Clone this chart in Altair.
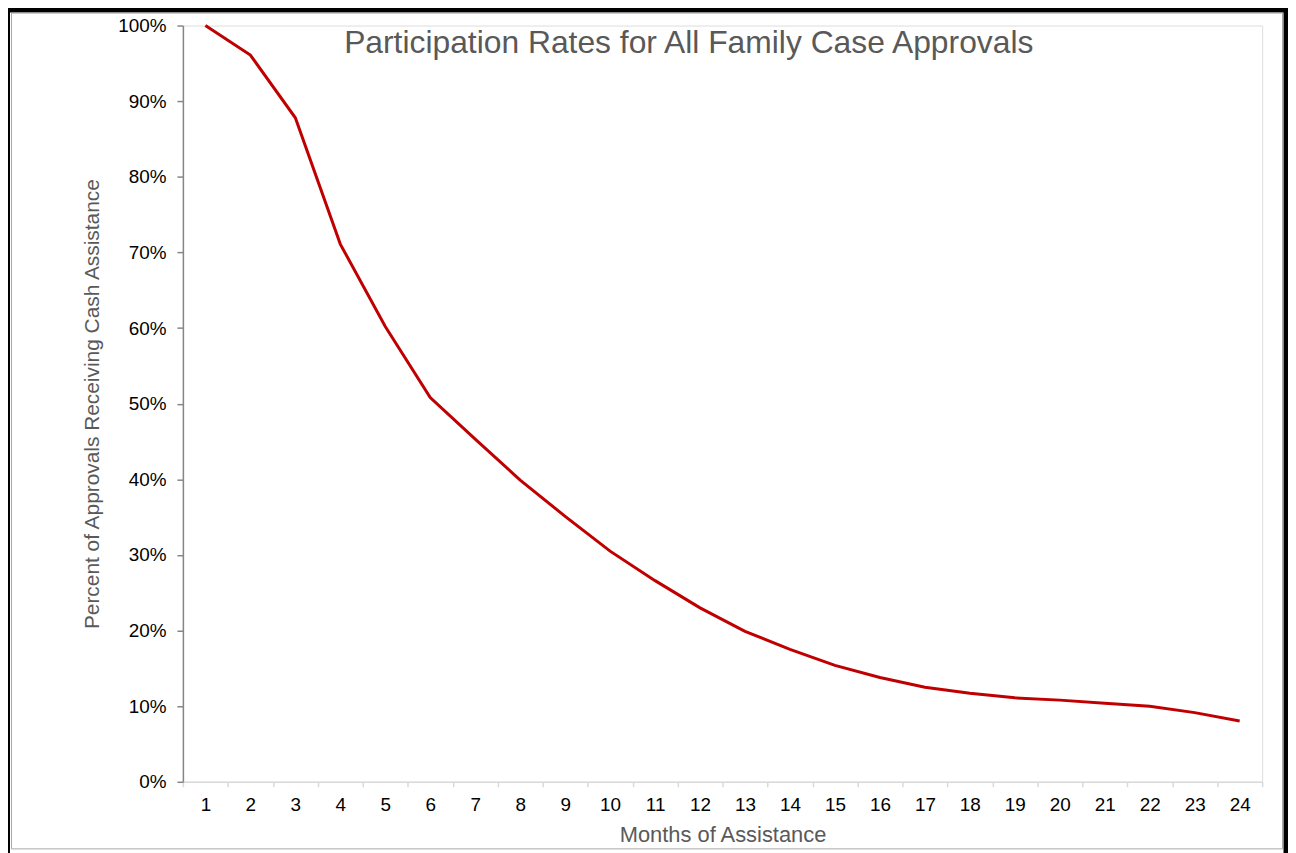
import altair as alt
import pandas as pd

# ---- data ----
months = list(range(1, 25))
rates = [1.000, 0.961, 0.878, 0.711, 0.602, 0.508, 0.453, 0.399, 0.351, 0.305,
         0.266, 0.230, 0.199, 0.175, 0.154, 0.138, 0.125, 0.117, 0.111, 0.108,
         0.104, 0.100, 0.0915, 0.0805]

title_text = "Participation Rates for All Family Case Approvals"
x_title = "Months of Assistance"
y_title = "Percent of Approvals Receiving Cash Assistance"

df = pd.DataFrame({"month": months, "rate": rates})

FONT = "Liberation Sans"
W, H = 1086, 761

line = alt.Chart(df).mark_line(color="#c00000", strokeWidth=3).encode(
    x=alt.X(
        "month:O",
        scale=alt.Scale(type="band", paddingInner=0, paddingOuter=0),
        axis=alt.Axis(
            title=x_title,
            labelAngle=0,
            tickBand="extent",
            tickSize=5,
            tickColor="#d9d9d9",
            tickWidth=1.5,
            domainColor="#d9d9d9",
            domainWidth=1.5,
            labelFont=FONT,
            labelFontSize=19,
            labelColor="#000000",
            labelBaseline="alphabetic",
            labelPadding=24,
            titleFont=FONT,
            titleFontSize=22,
            titleFontWeight="normal",
            titleColor="#595959",
            titleBaseline="alphabetic",
            titleY=60,
            grid=False,
        ),
    ),
    y=alt.Y(
        "rate:Q",
        scale=alt.Scale(domain=[0, 1]),
        axis=alt.Axis(
            title=y_title,
            format=".0%",
            values=[i / 10 for i in range(11)],
            tickSize=6,
            tickColor="#868686",
            tickWidth=1.5,
            domainColor="#868686",
            domainWidth=1.5,
            labelFont=FONT,
            labelFontSize=19,
            labelColor="#000000",
            labelPadding=11,
            titleFont=FONT,
            titleFontSize=21,
            titleFontWeight="normal",
            titleColor="#595959",
            titleAngle=-90,
            titleBaseline="middle",
            titleX=-91,
            grid=False,
        ),
    ),
)

frame_data = alt.Data(values=[{"k": 1}])
outer = alt.Chart(frame_data).mark_rect(
    fill="transparent", stroke="#000000", strokeWidth=5
).encode(
    x=alt.value(-176.5), x2=alt.value(1110),
    y=alt.value(-15.5), y2=alt.value(850),
)
inner = alt.Chart(frame_data).mark_rect(
    fill="transparent", stroke="#a6a6a6", strokeWidth=1
).encode(
    x=alt.value(-172.5), x2=alt.value(1106.5),
    y=alt.value(-12.5), y2=alt.value(828.5),
)

chart = alt.layer(line, outer, inner).properties(
    width=W,
    height=H,
    autosize=alt.AutoSizeParams(type="none"),
    padding={"left": 176, "top": 15, "right": 26, "bottom": 69},
    title=alt.TitleParams(
        text=title_text,
        anchor="middle",
        dx=-34,
        offset=-78,
        baseline="alphabetic",
        font=FONT,
        fontSize=32,
        fontWeight="normal",
        color="#595959",
    ),
).configure_view(stroke=None).configure(background="white")

chart.save("out.html", embed_options={"renderer": "svg", "actions": False})
